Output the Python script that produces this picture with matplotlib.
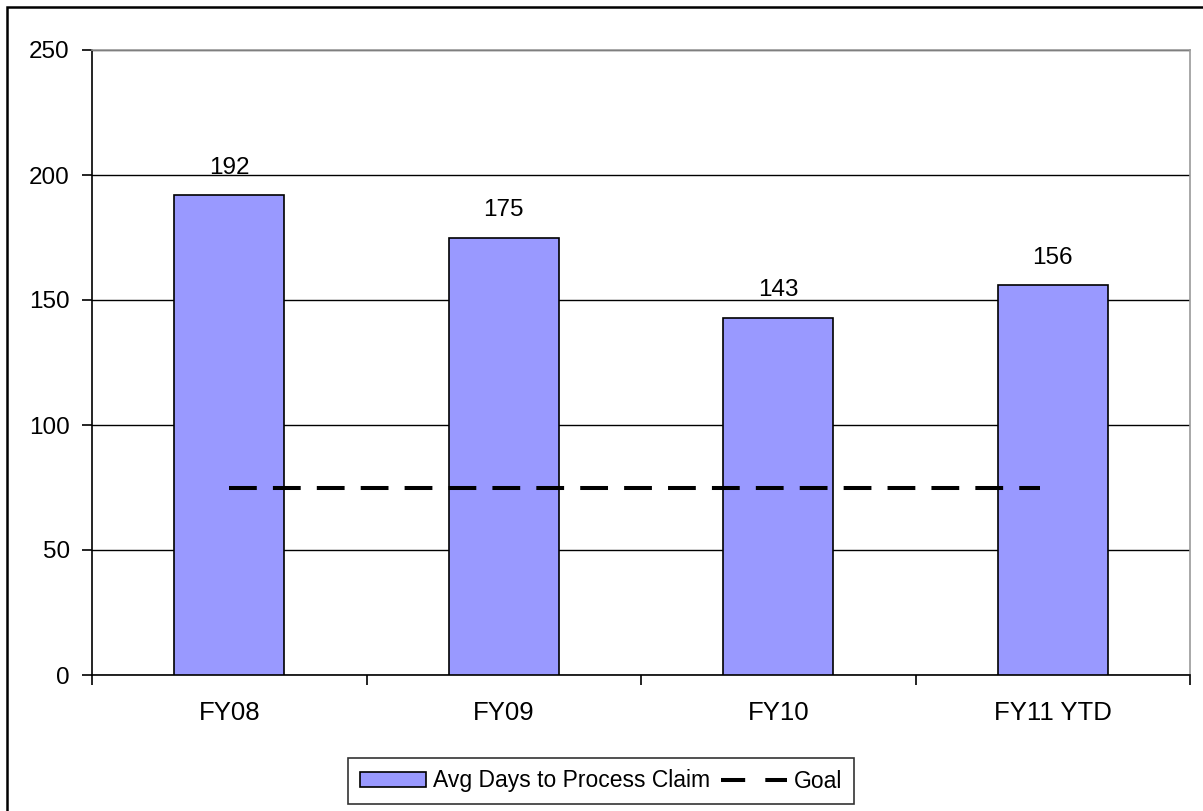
import matplotlib
matplotlib.use("Agg")
import matplotlib.pyplot as plt
from matplotlib.patches import Rectangle
from matplotlib.lines import Line2D

categories = ["FY08", "FY09", "FY10", "FY11 YTD"]
avg_days = [192, 175, 143, 156]
goal = [75, 75]
y_ticks = [0, 50, 100, 150, 200, 250]

plt.rcParams['font.family'] = ['Liberation Sans', 'DejaVu Sans']

W, H = 1203, 811
fig = plt.figure(figsize=(W/100, H/100), dpi=100)
ax = fig.add_axes([92/W, 1-675/H, (1190-92)/W, (675-50)/H])

DASH = (0, (6.9, 4.0))
x = list(range(len(categories)))
ax.bar(x, avg_days, width=0.4, color="#9999FF", edgecolor="black", linewidth=1.2, zorder=3,
       label="Avg Days to Process Claim")
ax.plot([0, 2.955], goal, color="black", linestyle=DASH, linewidth=2.9, zorder=4,
        label="Goal")

for xi, v in zip(x, avg_days):
    ax.text(xi, v + 6.5, str(v), ha="center", va="bottom", fontsize=17.5, zorder=5)

ax.set_xlim(-0.5, 3.5)
ax.set_ylim(0, 250)
ax.set_yticks(y_ticks)
ax.set_yticklabels([str(t) for t in y_ticks], fontsize=17.5)
ax.yaxis.grid(True, color="black", linewidth=1.0, zorder=0)
ax.set_axisbelow(True)

ax.set_xticks(x)
ax.set_xticklabels(categories, fontsize=18.5)
ax.tick_params(axis="x", length=0, pad=19)
ax.set_xticks([-0.5, 0.5, 1.5, 2.5, 3.5], minor=True)
ax.tick_params(axis="x", which="minor", length=7, width=1.2, direction="out")
ax.tick_params(axis="y", length=7, width=1.2, direction="out", pad=9)

for s in ["top", "right"]:
    ax.spines[s].set_color("#999999")
    ax.spines[s].set_linewidth(1.2)
for s in ["left", "bottom"]:
    ax.spines[s].set_color("black")
    ax.spines[s].set_linewidth(1.2)

handles = [Rectangle((0, 0), 1, 1, facecolor="#9999FF", edgecolor="black", linewidth=1.2),
           Line2D([0], [0], color="black", linestyle=(0, (6.0, 5.0)), linewidth=2.9)]
leg = fig.legend(handles, ["Avg Days to Process Claim", "Goal"], loc="center",
                 bbox_to_anchor=(601/W, 1-781/H), ncol=2, frameon=True, fancybox=False,
                 fontsize=16.5, handlelength=2.9, handleheight=0.65, columnspacing=0.45,
                 handletextpad=0.3, borderpad=0.5, borderaxespad=0)
leg.get_frame().set_edgecolor("black")
leg.get_frame().set_linewidth(1.2)

fig.patches.append(Rectangle((7/W, -0.01), 1.1, 1 - 7/H + 0.01, transform=fig.transFigure,
                             fill=False, edgecolor="black", linewidth=1.8))

fig.savefig("out.png", dpi=100)
